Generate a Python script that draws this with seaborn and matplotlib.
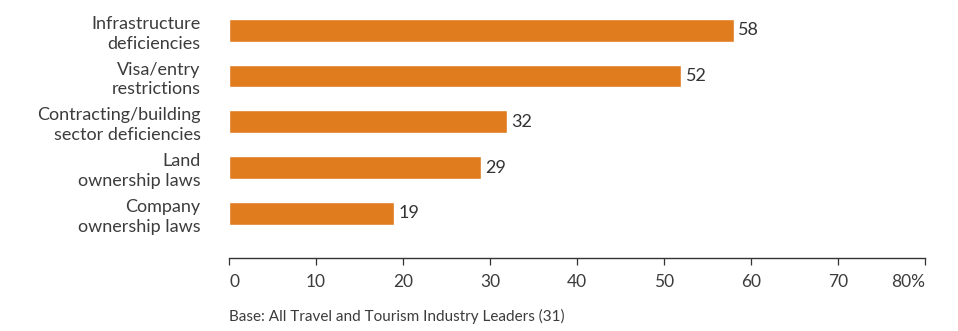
import matplotlib
matplotlib.use("Agg")
import matplotlib.pyplot as plt
import seaborn as sns
import pandas as pd

categories = [
    "Infrastructure\ndeficiencies",
    "Visa/entry\nrestrictions",
    "Contracting/building\nsector deficiencies",
    "Land\nownership laws",
    "Company\nownership laws",
]
values = [58, 52, 32, 29, 19]
tick_values = [0, 10, 20, 30, 40, 50, 60, 70, 80]
tick_labels = ["0", "10", "20", "30", "40", "50", "60", "70", "80%"]
footnote = "Base: All Travel and Tourism Industry Leaders (31)"

BAR_COLOR = "#E07B1E"
TEXT_COLOR = "#333333"
LABEL_COLOR = "#3c3c3c"

sns.set_theme(style="white")
plt.rcParams["font.family"] = ["Lato", "DejaVu Sans"]

df = pd.DataFrame({"category": categories, "value": values})

fig = plt.figure(figsize=(9.58, 3.31), dpi=100)
ax = fig.add_axes([229 / 958, 1 - 257.7 / 331, (925 - 229) / 958, (257.7 - 7.4) / 331])

sns.barplot(data=df, x="value", y="category", color=BAR_COLOR, width=0.5,
            saturation=1, ax=ax)

ax.set_xlim(0, 80)
ax.set_ylim(4.97, -0.5)
ax.set_xlabel("")
ax.set_ylabel("")

for side in ["top", "right", "left"]:
    ax.spines[side].set_visible(False)
ax.spines["bottom"].set_color(TEXT_COLOR)
ax.spines["bottom"].set_linewidth(1.0)

ax.set_xticks(tick_values)
ax.set_xticklabels(tick_labels, fontsize=12.5, color=LABEL_COLOR)
xlabels = ax.get_xticklabels()
# keep the end labels inside the axis span
xlabels[0].set_horizontalalignment("left")
xlabels[-1].set_horizontalalignment("right")
ax.tick_params(axis="x", direction="out", length=5, width=0.9,
               color=TEXT_COLOR, pad=6.5, bottom=True)
ax.tick_params(axis="y", length=0, pad=20.5)
for lbl in ax.get_yticklabels():
    lbl.set_fontsize(13)
    lbl.set_color(LABEL_COLOR)
    lbl.set_horizontalalignment("right")
    lbl.set_multialignment("right")
    lbl.set_linespacing(1.3)

for container in ax.containers:
    ax.bar_label(container, labels=[str(v) for v in values], padding=3,
                 fontsize=13, color=TEXT_COLOR)

fig.text(229 / 958, 1 - 316 / 331, footnote, fontsize=11, color=LABEL_COLOR,
         ha="left", va="center")

fig.savefig("out.png", dpi=100)
